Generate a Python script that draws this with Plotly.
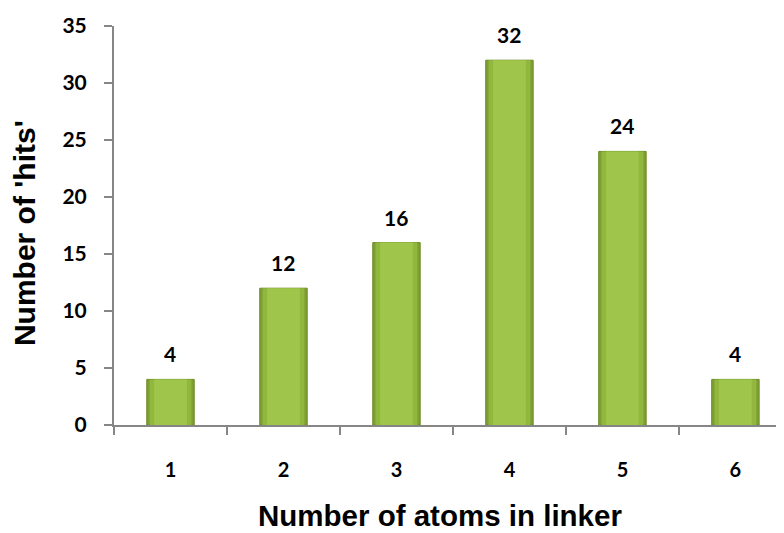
import plotly.graph_objects as go

categories = ["1", "2", "3", "4", "5", "6"]
hits = [4, 12, 16, 32, 24, 4]
y_ticks = [0, 5, 10, 15, 20, 25, 30, 35]

NUM_FONT = "Lato, Open Sans, sans-serif"
TITLE_FONT = "Liberation Sans, Arial, sans-serif"

fig = go.Figure()
# layered bars to mimic the bevelled gradient
fig.add_trace(go.Bar(x=categories, y=hits, width=0.42,
                     marker=dict(color="#7e9f32", line=dict(color="#6d8b28", width=1)),
                     hoverinfo="skip"))
fig.add_trace(go.Bar(x=categories, y=hits, width=0.37,
                     marker=dict(color="#92b73f", line=dict(width=0)), hoverinfo="skip"))
fig.add_trace(go.Bar(x=categories, y=hits, width=0.29,
                     marker=dict(color="#9fc54b", line=dict(width=0)), hoverinfo="skip"))

# value labels above bars (category positions by index)
for i, v in enumerate(hits):
    fig.add_annotation(x=i, y=v, text=f"<b>{v}</b>", showarrow=False,
                       xref="x", yref="y", yanchor="bottom", yshift=11,
                       font=dict(family=NUM_FONT, size=21, color="black"))

# axis titles
fig.add_annotation(text="<b>Number of atoms in linker</b>", xref="paper", yref="paper",
                   x=0.4866, y=-0.228, xanchor="center", yanchor="middle", showarrow=False,
                   font=dict(family=TITLE_FONT, size=29.5, color="black"))
fig.add_annotation(text="<b>Number of 'hits'</b>", xref="paper", yref="paper",
                   x=-0.1343, y=0.481, xanchor="center", yanchor="middle", showarrow=False,
                   textangle=-90, font=dict(family=TITLE_FONT, size=30, color="black"))

fig.update_layout(
    width=784, height=533,
    margin=dict(l=106, r=8, t=18, b=116),
    barmode="overlay",
    showlegend=False,
    plot_bgcolor="white", paper_bgcolor="white",
)
fig.update_xaxes(
    type="category", range=[-0.5, 5.43], tickson="boundaries", automargin=False,
    ticks="outside", ticklen=8, tickcolor="#868686", tickwidth=2,
    showline=True, linecolor="#868686", linewidth=2,
    showgrid=False, zeroline=False,
    tickfont=dict(family=NUM_FONT, size=20, color="black", weight="bold"),
    ticklabelstandoff=26,
)
fig.update_yaxes(
    range=[0, 35], tickvals=y_ticks, automargin=False,
    ticks="outside", ticklen=8, tickcolor="#868686", tickwidth=2,
    showline=True, linecolor="#868686", linewidth=2, showgrid=False, zeroline=False,
    tickfont=dict(family=NUM_FONT, size=21, color="black", weight="bold"),
    ticklabelstandoff=13,
)
fig.write_html("out.html")
